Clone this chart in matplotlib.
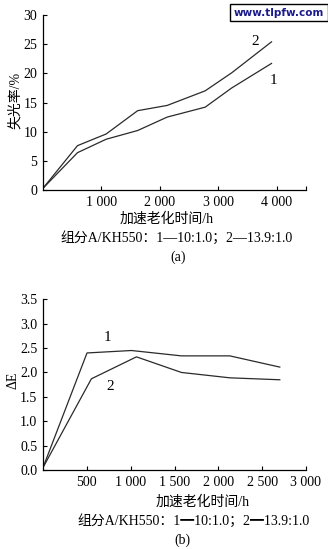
import matplotlib
matplotlib.use("Agg")
from matplotlib import pyplot as plt

plt.rcParams['font.family'] = ['Liberation Serif', 'Noto Sans CJK SC']

# (a) light loss rate vs aging time
hours_a = [0, 590, 1080, 1620, 2125, 2775, 3230, 3910]
loss_1 = [0.3, 6.4, 8.7, 10.2, 12.5, 14.2, 17.5, 21.7]
loss_2 = [0.3, 7.6, 9.6, 13.6, 14.5, 17.0, 20.1, 25.4]

# (b) colour difference vs aging time
hours_b1 = [0, 502, 1009, 1579, 2131, 2701]
de_1 = [0.05, 2.40, 2.45, 2.34, 2.34, 2.11]
hours_b2 = [0, 552, 1066, 1579, 2131, 2701]
de_2 = [0.05, 1.87, 2.32, 2.00, 1.89, 1.85]

xticks_a = [1000, 2000, 3000, 4000]
xticks_b = [500, 1000, 1500, 2000, 2500, 3000]


def fmt(v):
    return "{:,}".format(v).replace(",", " ")


W, H = 328, 549
fig = plt.figure(figsize=(W / 100, H / 100), dpi=100)

ax1 = fig.add_axes([43 / W, 1 - 190 / H, (306 - 43) / W, (190 - 15) / H])
ax2 = fig.add_axes([43 / W, 1 - 470 / H, (306 - 43) / W, (470 - 299.3) / H])

lc = "#2a2a2a"
ax1.plot(hours_a, loss_1, color=lc, lw=0.9)
ax1.plot(hours_a, loss_2, color=lc, lw=0.9)
ax1.set_xlim(0, 4500)
ax1.set_ylim(0, 30)
ax1.set_xticks(xticks_a)
ax1.set_xticklabels([fmt(v) for v in xticks_a])
ax1.set_xticks([4500], minor=True)
ax1.set_yticks(range(0, 31, 5))
ax1.text(3560, 24.9, "2", fontsize=11)
ax1.text(3870, 18.2, "1", fontsize=11)

ax2.plot(hours_b1, de_1, color=lc, lw=0.9)
ax2.plot(hours_b2, de_2, color=lc, lw=0.9)
ax2.set_xlim(0, 3000)
ax2.set_ylim(0, 3.5)
ax2.set_xticks(xticks_b)
ax2.set_xticklabels([fmt(v) for v in xticks_b])
ax2.set_yticks([i * 0.5 for i in range(8)])
ax2.set_yticklabels(["%.1f" % (i * 0.5) for i in range(8)])
ax2.text(690, 2.64, "1", fontsize=11)
ax2.text(720, 1.64, "2", fontsize=11)

for ax in (ax1, ax2):
    ax.spines['top'].set_visible(False)
    ax.spines['right'].set_visible(False)
    ax.tick_params(direction='in', length=3, width=0.8, labelsize=10, pad=4)
    ax.tick_params(which='minor', direction='in', length=3, width=0.8)
    for s in ('left', 'bottom'):
        ax.spines[s].set_linewidth(0.9)

fig.text(15 / W, 1 - 100 / H, "失光率/%", rotation=90, ha='center', va='center', fontsize=10)
fig.text(13 / W, 1 - 380 / H, "ΔE", rotation=90, ha='center', va='center', fontsize=10)

fig.text(167 / W, 1 - 219 / H, "加速老化时间/h", ha='center', va='center', fontsize=10)
fig.text(177 / W, 1 - 238 / H, "组分A/KH550：1—10:1.0；2—13.9:1.0", ha='center', va='center', fontsize=10)
fig.text(178 / W, 1 - 257 / H, "(a)", ha='center', va='center', fontsize=10)

fig.text(203 / W, 1 - 502 / H, "加速老化时间/h", ha='center', va='center', fontsize=10)
fig.text(194 / W, 1 - 521 / H, "组分A/KH550：1━10:1.0；2━13.9:1.0", ha='center', va='center', fontsize=10)
fig.text(182 / W, 1 - 540 / H, "(b)", ha='center', va='center', fontsize=10)

fig.text(279 / W, 1 - 12.5 / H, "www.tlpfw.com", ha='center', va='center', fontsize=7.5,
         color='#1a1a8c', fontweight='bold', family='DejaVu Sans',
         bbox=dict(facecolor='white', edgecolor='black', linewidth=1, pad=2.5))

fig.savefig("out.png", dpi=100)
